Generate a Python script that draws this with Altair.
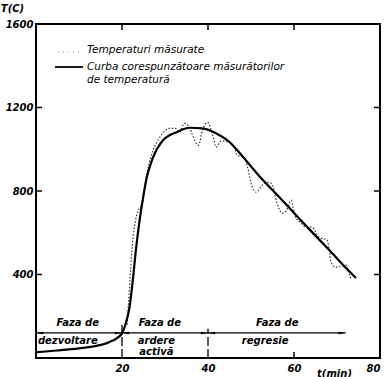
import altair as alt
import pandas as pd

# ---- data ----
sol_t = [0, 5, 10, 14, 17, 19, 20, 21, 21.8, 22.5, 23.3, 24.1, 25.0, 25.7, 27.1, 29.4, 32.7,
         35.7, 38.7, 42.0, 45.0, 46.8, 48.9, 52.6, 56.6, 60.5, 64.2, 68.2, 72.1, 74.4]
sol_T = [28, 36, 46, 58, 76, 98, 118, 175, 250, 370, 530, 660, 780, 860, 955, 1040, 1082,
         1103, 1100, 1075, 1035, 995, 945, 856, 770, 684, 603, 517, 431, 383]

dot_t = [21.2, 21.6, 22.0, 22.4, 22.9, 23.5, 24.2, 24.8, 25.5, 26.3, 27.1, 28.0, 29.4, 31.0,
         32.5, 33.4, 34.5, 35.7, 36.4, 37.8, 38.7, 39.9, 41.0, 41.9, 43.1, 45.0, 46.1, 46.8,
         48.5, 49.2, 50.3, 51.2, 52.6, 54.3, 55.0, 56.0, 57.3, 58.2, 59.4, 59.8, 60.5, 61.7,
         62.4, 64.2, 65.8, 67.7, 68.2, 68.6, 69.8, 71.2, 72.1, 72.8, 73.3]
dot_T = [160, 290, 420, 540, 630, 690, 720, 745, 850, 930, 990, 1030, 1075, 1100,
         1100, 1081, 1124, 1105, 1067, 1019, 1090, 1129, 1075, 1010, 1040, 1033, 1010, 971,
         960, 914, 818, 794, 828, 842, 825, 746, 694, 705, 756, 720, 670, 646,
         630, 627, 579, 565, 517, 459, 435, 440, 445, 407, 373]

x_ticks = [20, 40, 60, 80]
y_ticks = [400, 800, 1200, 1600]
inner_y_ticks = [400, 800, 1200]
top_x_ticks = [20, 40, 60]
bottom_x_ticks = [60]

phase_bounds = [20, 40]
phase_start = [0, 20, 40]
phase_end = [20, 40, 72]
arrow_level = 120

phase_labels = ["Faza  de", "dezvoltare", "Faza  de", "ardere", "activă", "Faza  de", "regresie"]
phase_label_t = [9.7, 7.4, 28.8, 28.0, 28.0, 56.1, 53.3]
phase_label_T = [167, 80, 167, 82, 28, 167, 80]

legend_lines = ["Temperaturi măsurate", "Curba corespunzătoare măsurătorilor", "de temperatură"]

W, H = 344, 334
FONT = "DejaVu Sans"

xs = alt.Scale(domain=[0, 80], nice=False, zero=False)
ys = alt.Scale(domain=[0, 1600], nice=False, zero=False)

df_sol = pd.DataFrame({"t": sol_t, "T": sol_T})
df_dot = pd.DataFrame({"t": dot_t, "T": dot_T})

x_axis = alt.Axis(values=x_ticks, ticks=False, domain=False, grid=False, format="d",
                  labelFont=FONT, labelFontSize=10, labelFontStyle="italic", labelFontWeight="bold",
                  labelPadding=5, title="t(min)", titleFont=FONT, titleFontSize=10,
                  titleFontStyle="italic", titleFontWeight="bold", titleX=298, titleY=15,
                  titleAlign="center", titleBaseline="middle")
y_axis = alt.Axis(values=y_ticks, ticks=False, domain=False, grid=False, format="d",
                  labelFont=FONT, labelFontSize=10, labelFontStyle="italic", labelFontWeight="bold",
                  labelPadding=3, title="T(C)", titleFont=FONT, titleFontSize=10,
                  titleFontStyle="italic", titleFontWeight="bold", titleAngle=0,
                  titleX=-24, titleY=-16, titleAlign="center", titleBaseline="middle")

solid = alt.Chart(df_sol).mark_line(color="black", strokeWidth=2.2, interpolate="monotone").encode(
    x=alt.X("t:Q", scale=xs, axis=x_axis),
    y=alt.Y("T:Q", scale=ys, axis=y_axis),
)
dotted = alt.Chart(df_dot).mark_line(color="#333333", strokeWidth=1.2, strokeDash=[1.5, 1.8],
                                     interpolate="monotone").encode(
    x=alt.X("t:Q", scale=xs), y=alt.Y("T:Q", scale=ys))

# inward ticks
lt = alt.Chart(pd.DataFrame({"T": inner_y_ticks})).mark_rule(color="black", strokeWidth=1.5).encode(
    y=alt.Y("T:Q", scale=ys), x=alt.value(0), x2=alt.value(6))
rt = alt.Chart(pd.DataFrame({"T": inner_y_ticks})).mark_rule(color="black", strokeWidth=1.5).encode(
    y=alt.Y("T:Q", scale=ys), x=alt.value(W - 6), x2=alt.value(W))
tt = alt.Chart(pd.DataFrame({"t": top_x_ticks})).mark_rule(color="black", strokeWidth=1.5).encode(
    x=alt.X("t:Q", scale=xs), y=alt.value(0), y2=alt.value(6))
bt = alt.Chart(pd.DataFrame({"t": bottom_x_ticks})).mark_rule(color="black", strokeWidth=1.5).encode(
    x=alt.X("t:Q", scale=xs), y=alt.value(H - 6), y2=alt.value(H))

# phase boundaries
bounds = alt.Chart(pd.DataFrame({"t": phase_bounds, "lo": [0, 0], "hi": [165, 140]})).mark_rule(
    color="black", strokeWidth=1.3, strokeDash=[9, 3]).encode(
    x=alt.X("t:Q", scale=xs), y=alt.Y("lo:Q", scale=ys), y2="hi:Q")

# phase arrows
df_arr = pd.DataFrame({"a": phase_start, "b": phase_end, "T": [arrow_level] * 3})
arrows = alt.Chart(df_arr).mark_rule(color="black", strokeWidth=1.3).encode(
    x=alt.X("a:Q", scale=xs), x2="b:Q", y=alt.Y("T:Q", scale=ys))
left_heads = alt.Chart(pd.DataFrame({"t": [s + 1.0 for s in phase_start], "T": [arrow_level] * 3})).mark_point(
    shape="M-1,0L0.7,-0.3L0.7,0.3Z", filled=True, color="black", size=70, opacity=1).encode(
    x=alt.X("t:Q", scale=xs), y=alt.Y("T:Q", scale=ys))
right_heads = alt.Chart(pd.DataFrame({"t": [e - 1.0 for e in phase_end], "T": [arrow_level] * 3})).mark_point(
    shape="M1,0L-0.7,-0.3L-0.7,0.3Z", filled=True, color="black", size=70, opacity=1).encode(
    x=alt.X("t:Q", scale=xs), y=alt.Y("T:Q", scale=ys))

ptxt = alt.Chart(pd.DataFrame({"label": phase_labels, "t": phase_label_t, "T": phase_label_T})).mark_text(
    font=FONT, fontSize=10, fontStyle="italic", fontWeight="bold", color="black",
    align="center", baseline="middle").encode(
    x=alt.X("t:Q", scale=xs), y=alt.Y("T:Q", scale=ys), text="label:N")

# legend (manual)
leg_y = [26, 43, 56]
legend_text = [
    alt.Chart(pd.DataFrame({"label": [txt]})).mark_text(
        font=FONT, fontSize=10.5, fontStyle="italic", color="black", align="left", baseline="middle").encode(
        x=alt.value(51), y=alt.value(yy), text="label:N")
    for txt, yy in zip(legend_lines, leg_y)
]
leg_solid = alt.Chart(pd.DataFrame({"k": [0]})).mark_rule(color="black", strokeWidth=1.8).encode(
    x=alt.value(19), x2=alt.value(47), y=alt.value(43))
leg_dot = alt.Chart(pd.DataFrame({"k": [0]})).mark_rule(color="#999999", strokeWidth=1, strokeDash=[1, 4]).encode(
    x=alt.value(22), x2=alt.value(46), y=alt.value(28))

chart = alt.layer(
    bounds, arrows, left_heads, right_heads, ptxt, dotted, solid, lt, rt, tt, bt,
    leg_solid, leg_dot, *legend_text
).properties(
    width=W, height=H,
    padding={"left": 36, "top": 24, "right": 9, "bottom": 19},
    autosize=alt.AutoSizeParams(type="none"),
    background="white",
).configure_view(stroke="black", strokeWidth=2)

chart.save("out.html", embed_options={"renderer": "svg", "actions": False})
